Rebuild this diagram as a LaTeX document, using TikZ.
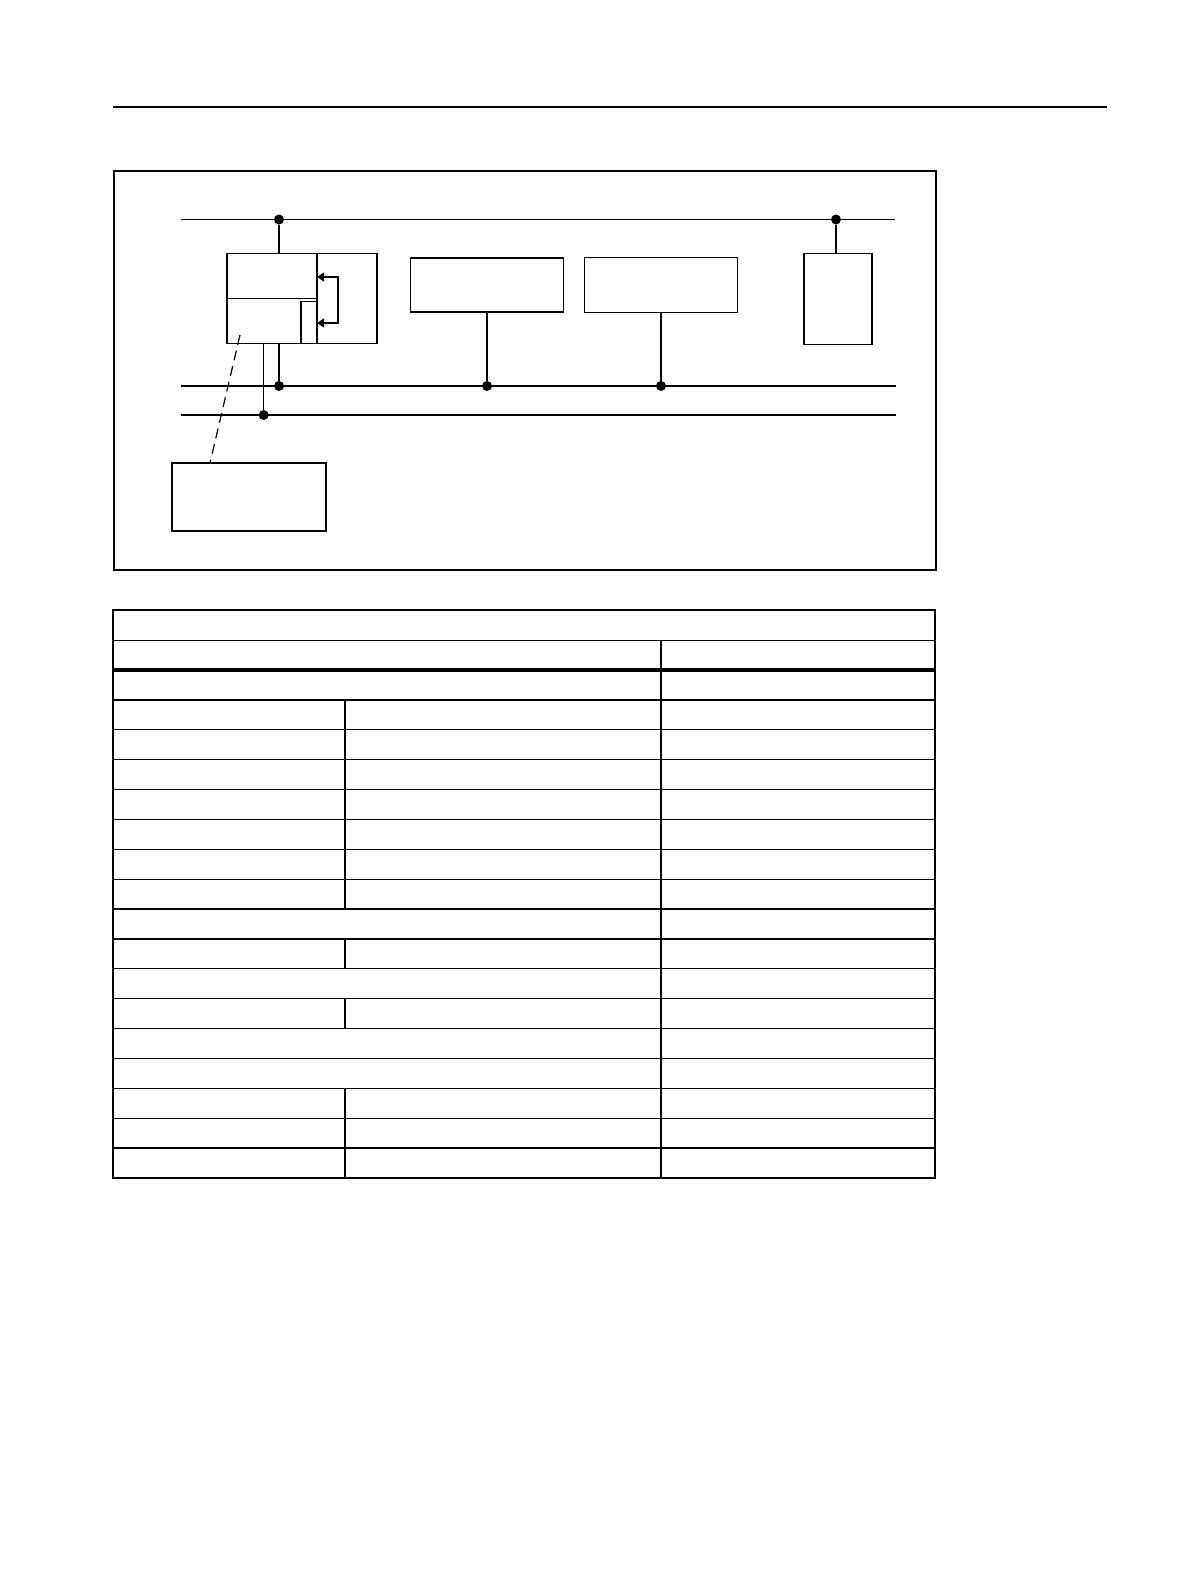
\documentclass[tikz,border=0pt]{standalone}
\usetikzlibrary{arrows.meta,calc}
\tikzset{
  blk/.style={draw,line width=1.2pt,inner sep=0pt,outer sep=0pt},
  tap/.style={circle,fill=black,inner sep=0pt,minimum size=10pt},
  wire/.style={line width=1.2pt},
  grid/.style={line width=1.3pt}
}
\begin{document}
\begin{tikzpicture}[x=1pt,y=-1pt]
\useasboundingbox (0,0) rectangle (1190,1584);
\draw[line width=1.3pt] (113,107) -- (1107,107) ; %edit here for the page rule
\draw[grid] (114,171) rectangle (936,570);
% buses
\draw[wire] (181,219.5) -- (895,219.5);
\draw[wire] (181,386) -- (896,386);
\draw[wire] (181,415) -- (896,415);
% modules
\node[blk,minimum width=150pt,minimum height=90pt] (cpu) at (302,298.5) {};
\node[blk,minimum width=153pt,minimum height=54pt] (io1) at (487,285) {};
\node[blk,minimum width=153pt,minimum height=55pt] (io2) at (661,285) {};
\node[blk,minimum width=68pt,minimum height=91pt] (pwr) at (838,299) {};
\node[blk,minimum width=154pt,minimum height=68pt] (pg) at (249,497) {};
\draw[wire] (317,253.5) -- (317,343.5);
\draw[wire] (227,298.5) -- (317,298.5);
\node[blk,minimum width=16pt,minimum height=42pt] (mem) at (309,322.5) {};
\draw[wire,{Triangle[length=7pt,width=9pt]}-{Triangle[length=7pt,width=9pt]}]
  (317,277) -- (338,277) -- (338,323) -- (317,323);
% taps
\node[tap] (t1) at (279,219.5) {};
\node[tap] (t2) at (836,219.5) {};
\node[tap] (b1) at (279,386) {};
\node[tap] (b2) at (263.7,415) {};
\node[tap] (b3) at (io1.south |- 0,386) {};
\node[tap] (b4) at (io2.south |- 0,386) {};
\draw[wire] (t1) -- (t1 |- cpu.north);
\draw[wire] (t2) -- (t2 |- pwr.north);
\draw[wire] (b1) -- (b1 |- cpu.south);
\draw[wire] (b2) -- (b2 |- cpu.south);
\draw[wire] (io1.south) -- (b3);
\draw[wire] (io2.south) -- (b4);
\coordinate (pgc) at (240,335);
\draw[wire,dash pattern=on 10pt off 6pt] (pgc) -- (pg.north -| 210,0);
% table
\draw[grid] (113,610) rectangle (935,1178);
\draw[grid] (113,640.3) -- (935,640.3);
\draw[line width=4pt] (113,670) -- (935,670);
\draw[grid] (661,640.3) -- (661,1178);
\foreach \i in {1,...,16}{ % edit here for the rows
\draw[grid] (113,{670+\i*29.88}) -- (935,{670+\i*29.88});}
\foreach \i in {2,...,8,10,12,15,16,17}
\draw[grid] (345,{670+(\i-1)*29.88}) -- (345,{670+\i*29.88});
\end{tikzpicture}
\end{document}
